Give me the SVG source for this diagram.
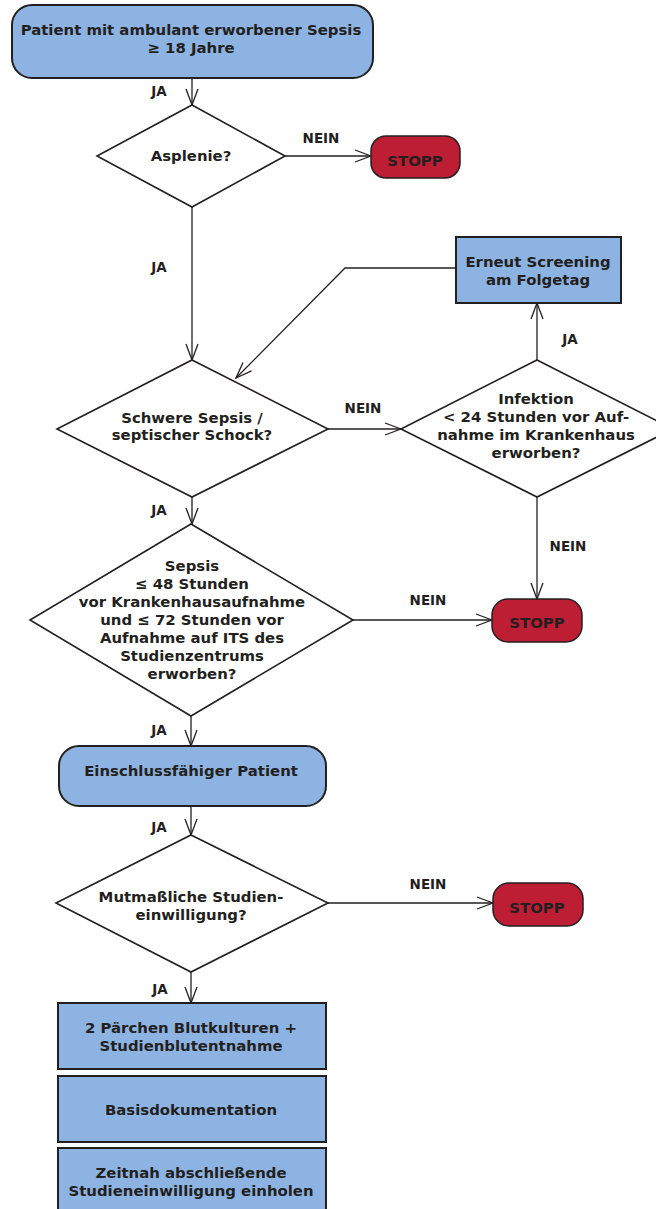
<svg xmlns="http://www.w3.org/2000/svg" width="656" height="1209" viewBox="0 0 656 1209">
<style>
text{font-family:"DejaVu Sans","Verdana",sans-serif;font-weight:bold;fill:#231f20;text-anchor:middle}
.t{font-size:14.9px}
.l{font-size:13.5px}
.blue{fill:#8db3e2;stroke:#231f20;stroke-width:2}
.red{fill:#be1e34;stroke:#231f20;stroke-width:1.5}
.dia{fill:#fff;stroke:#231f20;stroke-width:1.6}
.c{fill:none;stroke:#231f20;stroke-width:1.3;marker-end:url(#a)}
</style>
<defs>
<marker id="a" markerUnits="userSpaceOnUse" markerWidth="18" markerHeight="14" viewBox="0 0 18 14" refX="17" refY="7" orient="auto">
<path d="M1,1 L17,7 L1,13" fill="none" stroke="#231f20" stroke-width="1.3"/>
</marker>
</defs>
<g id="connectors">
<line class="c" x1="192" y1="78" x2="192" y2="105"/>
<line class="c" x1="285" y1="156" x2="371" y2="156"/>
<line class="c" x1="192" y1="207" x2="192" y2="360"/>
<polyline class="c" points="456,268 345,268 236,378"/>
<line class="c" x1="328" y1="429" x2="401" y2="429"/>
<line class="c" x1="537" y1="360" x2="537" y2="303"/>
<line class="c" x1="537" y1="497" x2="537" y2="599"/>
<line class="c" x1="192" y1="497" x2="192" y2="524"/>
<line class="c" x1="353" y1="620" x2="492" y2="620"/>
<line class="c" x1="191" y1="716" x2="191" y2="746"/>
<line class="c" x1="191" y1="806" x2="191" y2="835"/>
<line class="c" x1="328" y1="903" x2="493" y2="903"/>
<line class="c" x1="191" y1="972" x2="191" y2="1003"/>
</g>
<g id="labels">
<text class="l" x="159" y="96">JA</text>
<text class="l" x="321" y="143">NEIN</text>
<text class="l" x="159" y="272">JA</text>
<text class="l" x="363" y="413">NEIN</text>
<text class="l" x="570" y="344">JA</text>
<text class="l" x="568" y="551">NEIN</text>
<text class="l" x="159" y="515">JA</text>
<text class="l" x="428" y="605">NEIN</text>
<text class="l" x="159" y="735">JA</text>
<text class="l" x="159" y="832">JA</text>
<text class="l" x="428" y="889">NEIN</text>
<text class="l" x="160" y="994">JA</text>
</g>
<g id="n-start">
<rect class="blue" x="12" y="5" width="361" height="73" rx="20"/>
<text class="t" x="191" y="35">Patient mit ambulant erworbener Sepsis</text>
<text class="t" x="191" y="53">≥ 18 Jahre</text>
</g>
<g id="n-asplenie">
<polygon class="dia" points="192,105 285,156 192,207 97,156"/>
<text class="t" x="191" y="161">Asplenie?</text>
</g>
<g id="n-stopp1">
<rect class="red" x="371" y="136" width="89" height="42" rx="15"/>
<text class="t" x="415" y="166">STOPP</text>
</g>
<g id="n-schwere">
<polygon class="dia" points="192,360 328,429 192,497 57,429"/>
<text class="t" x="192" y="423">Schwere Sepsis /</text>
<text class="t" x="192" y="440">septischer Schock?</text>
</g>
<g id="n-erneut">
<rect class="blue" x="456" y="237" width="165" height="66"/>
<text class="t" x="538" y="267">Erneut Screening</text>
<text class="t" x="538" y="285">am Folgetag</text>
</g>
<g id="n-infektion">
<polygon class="dia" points="537,360 673,429 537,497 401,429"/>
<text class="t" x="536" y="404">Infektion</text>
<text class="t" x="536" y="422">&lt; 24 Stunden vor Auf-</text>
<text class="t" x="536" y="440">nahme im Krankenhaus</text>
<text class="t" x="536" y="458">erworben?</text>
</g>
<g id="n-sepsis">
<polygon class="dia" points="191,524 353,620 191,716 30,620"/>
<text class="t" x="192" y="571">Sepsis</text>
<text class="t" x="192" y="589">≤ 48 Stunden</text>
<text class="t" x="192" y="607">vor Krankenhausaufnahme</text>
<text class="t" x="192" y="625">und ≤ 72 Stunden vor</text>
<text class="t" x="192" y="643">Aufnahme auf ITS des</text>
<text class="t" x="192" y="661">Studienzentrums</text>
<text class="t" x="192" y="679">erworben?</text>
</g>
<g id="n-stopp2">
<rect class="red" x="492" y="599" width="90" height="43" rx="16"/>
<text class="t" x="537" y="628">STOPP</text>
</g>
<g id="n-einschluss">
<rect class="blue" x="59" y="746" width="267" height="60" rx="20"/>
<text class="t" x="191" y="776">Einschlussfähiger Patient</text>
</g>
<g id="n-mutmasslich">
<polygon class="dia" points="191,835 328,903 191,972 56,903"/>
<text class="t" x="191" y="902">Mutmaßliche Studien-</text>
<text class="t" x="191" y="920">einwilligung?</text>
</g>
<g id="n-stopp3">
<rect class="red" x="493" y="883" width="90" height="43" rx="16"/>
<text class="t" x="537" y="913">STOPP</text>
</g>
<g id="n-blut">
<rect class="blue" x="58" y="1003" width="268" height="66"/>
<text class="t" x="191" y="1033">2 Pärchen Blutkulturen +</text>
<text class="t" x="191" y="1051">Studienblutentnahme</text>
</g>
<g id="n-basis">
<rect class="blue" x="58" y="1076" width="268" height="66"/>
<text class="t" x="191" y="1115">Basisdokumentation</text>
</g>
<g id="n-zeitnah">
<rect class="blue" x="58" y="1148" width="268" height="70"/>
<text class="t" x="191" y="1178">Zeitnah abschließende</text>
<text class="t" x="191" y="1196">Studieneinwilligung einholen</text>
</g>
</svg>
